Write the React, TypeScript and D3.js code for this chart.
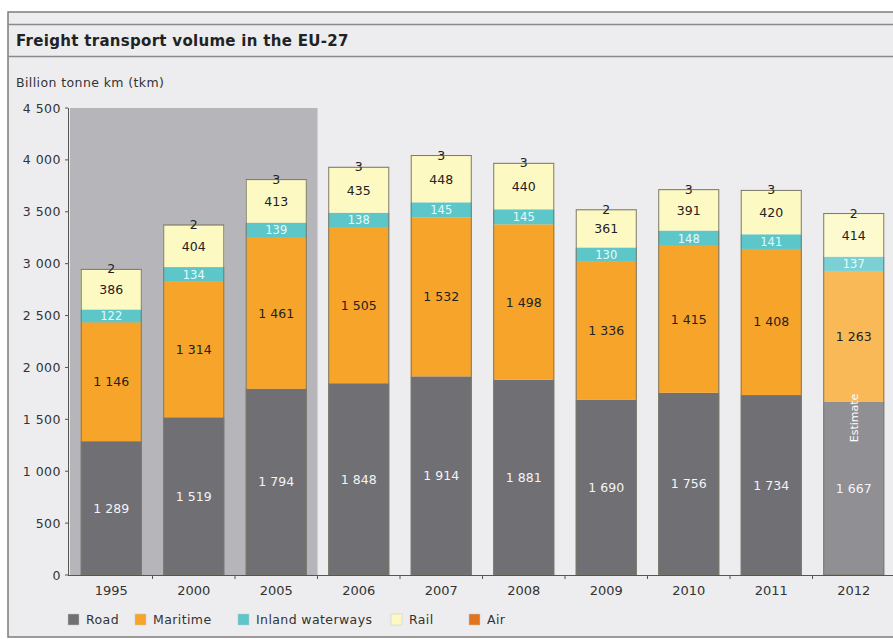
import * as d3 from 'd3';

const years = ['1995', '2000', '2005', '2006', '2007', '2008', '2009', '2010', '2011', '2012'];
const road = [1289, 1519, 1794, 1848, 1914, 1881, 1690, 1756, 1734, 1667];
const maritime = [1146, 1314, 1461, 1505, 1532, 1498, 1336, 1415, 1408, 1263];
const inland = [122, 134, 139, 138, 145, 145, 130, 148, 141, 137];
const rail = [386, 404, 413, 435, 448, 440, 361, 391, 420, 414];
const air = [2, 2, 3, 3, 3, 3, 2, 3, 3, 2];
const yTicks = [0, 500, 1000, 1500, 2000, 2500, 3000, 3500, 4000, 4500];
const shadedYears = ['1995', '2000', '2005'];
const estimateYear = '2012';

const seriesNames = ['Road', 'Maritime', 'Inland waterways', 'Rail', 'Air'];
const colors = ['#6f6f74', '#f6a52a', '#5cc6c9', '#fdf9c2', '#e2741e'];
const estColors = ['#8f8f94', '#f8b956', '#7ad0d2', '#fdfad0', '#e2741e'];
const textColors = ['#f4f4f4', '#222222', '#e6fbfb', '#222222', '#222222'];

const W = 893;
const H = 639;
const left = 70;
const top = 108;
const bottom = 575;

const fmt = d3.formatLocale({ decimal: ',', thousands: ' ', grouping: [3], currency: ['', ''] }).format(',');

export default function App() {
  const x = d3.scaleBand().domain(years).range([left, left + 825]).paddingInner(0.26).paddingOuter(0.13);
  const y = d3.scaleLinear().domain([0, 4500]).range([bottom, top]);
  const data = years.map((yr, i) => ({ yr, vals: [road[i], maritime[i], inland[i], rail[i], air[i]] }));
  const stackGen = d3.stack<any>().keys([0, 1, 2, 3, 4].map(String)).value((d: any, k: string) => d.vals[+k]);
  const stacked = stackGen(data as any);

  const font = 'DejaVu Sans, Verdana, sans-serif';
  const shadeX0 = left;
  const shadeX1 = (x(shadedYears[shadedYears.length - 1]) as number) + x.bandwidth() + x.step() * 0.13;

  const legendX = [68, 135, 238, 391, 469];

  return (
    <svg width={W} height={H} style={{ position: 'absolute', left: 0, top: 0 }} fontFamily={font}>
      <rect x={0} y={0} width={W} height={H} fill="#ffffff" />
      <rect x={8} y={12} width={W} height={625} fill="#ededef" stroke="#7c7c7c" strokeWidth={1.5} />
      <line x1={8} x2={W} y1={24.5} y2={24.5} stroke="#8a8a8a" strokeWidth={1.5} />
      <line x1={8} x2={W} y1={56.5} y2={56.5} stroke="#8a8a8a" strokeWidth={1.5} />
      <text x={16} y={46} fontSize={15} fontWeight="bold" fill="#222" letterSpacing={0.3}>Freight transport volume in the EU-27</text>
      <text x={16} y={87} fontSize={12.5} fill="#333" letterSpacing={0.4}>Billion tonne km (tkm)</text>

      <rect x={shadeX0} y={top} width={shadeX1 - shadeX0} height={bottom - top} fill="#b6b6ba" />

      {stacked.map((layer, si) =>
        layer.map((d, i) => {
          const yr = years[i];
          const est = yr === estimateYear;
          const bx = x(yr) as number;
          const y0 = y(d[0]);
          const y1 = y(d[1]);
          return (
            <rect key={si + '-' + yr} x={bx} y={y1} width={x.bandwidth()} height={Math.max(0, y0 - y1)}
              fill={est ? estColors[si] : colors[si]} />
          );
        })
      )}

      {data.map((d) => {
        const bx = x(d.yr) as number;
        const total = d3.sum(d.vals);
        return (
          <rect key={'o' + d.yr} x={bx + 0.5} y={y(total)} width={x.bandwidth() - 1} height={bottom - y(total)}
            fill="none" stroke="#7a7a6a" strokeWidth={1} />
        );
      })}

      {stacked.map((layer, si) =>
        layer.map((d, i) => {
          const yr = years[i];
          const cx = (x(yr) as number) + x.bandwidth() / 2;
          const val = data[i].vals[si];
          const mid = (y(d[0]) + y(d[1])) / 2;
          const ty = si === 4 ? y(d[1]) + 4 : mid + 4.5;
          return (
            <text key={'t' + si + yr} x={cx} y={ty} textAnchor="middle" fontSize={si === 2 ? 11.5 : 12.5}
              fill={textColors[si]}>{fmt(val)}</text>
          );
        })
      )}

      {(() => {
        const i = years.indexOf(estimateYear);
        const cx = (x(estimateYear) as number) + x.bandwidth() / 2;
        const ty = y(road[i]) + 16;
        return (
          <text x={cx + 4} y={ty} transform={`rotate(-90 ${cx + 4} ${ty})`} textAnchor="middle"
            fontSize={11} fill="#ffffff">Estimate</text>
        );
      })()}

      <line x1={68.5} x2={68.5} y1={top} y2={bottom} stroke="#555" />
      <line x1={68} x2={W} y1={bottom + 0.5} y2={bottom + 0.5} stroke="#555" />
      {yTicks.map((t) => (
        <g key={'y' + t}>
          <line x1={65} x2={68} y1={y(t)} y2={y(t)} stroke="#555" />
          <text x={61} y={y(t) + 4.5} textAnchor="end" fontSize={12.5} fill="#333" letterSpacing={0.5}>{fmt(t)}</text>
        </g>
      ))}
      {years.map((yr, i) => {
        const bx = (x(yr) as number) - x.step() * 0.13;
        return (
          <g key={'x' + yr}>
            {i > 0 && <line x1={bx} x2={bx} y1={bottom} y2={bottom + 4} stroke="#555" />}
            <text x={(x(yr) as number) + x.bandwidth() / 2} y={595} textAnchor="middle" fontSize={13} fill="#333">{yr}</text>
          </g>
        );
      })}

      {seriesNames.map((name, i) => (
        <g key={'l' + name}>
          <rect x={legendX[i]} y={614} width={11} height={11} fill={colors[i]} stroke="#c8c8c8" strokeWidth={0.5} />
          <text x={legendX[i] + 18} y={624} fontSize={12.5} fill="#333" letterSpacing={0.4}>{name}</text>
        </g>
      ))}
    </svg>
  );
}
